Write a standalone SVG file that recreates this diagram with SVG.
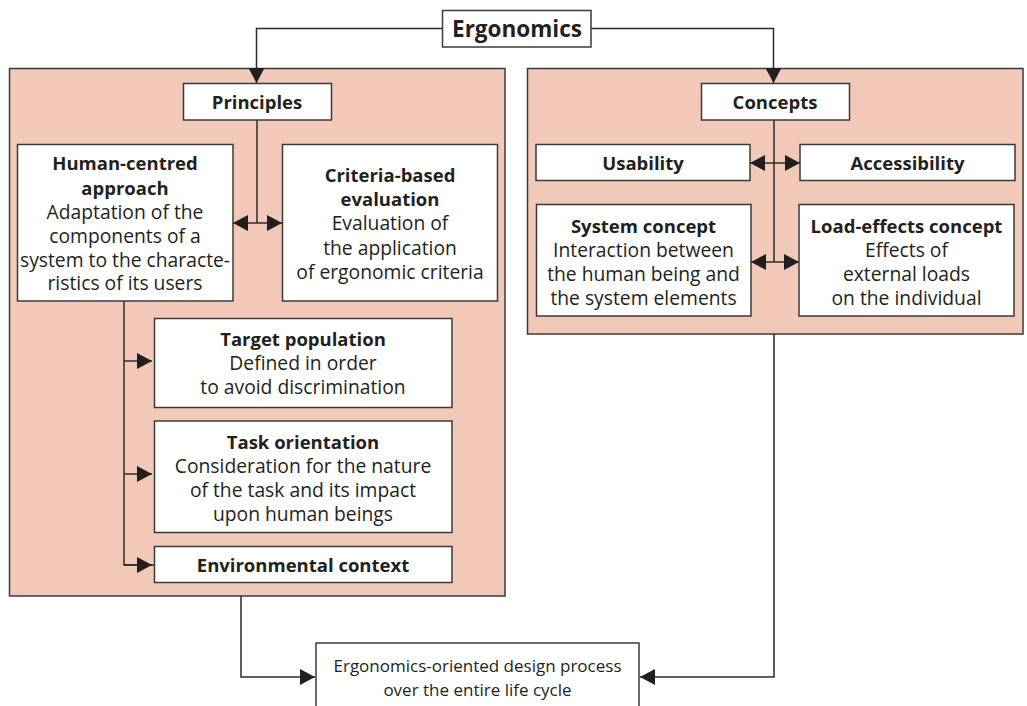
<svg xmlns="http://www.w3.org/2000/svg" width="1027" height="706" viewBox="0 0 1027 706">
  <style>
    .panel { fill: #f2c9b9; stroke: #3a3a3a; stroke-width: 1.5; }
    .box { fill: #ffffff; stroke: #3a3a3a; stroke-width: 1.5; }
    .line { fill: none; stroke: #2b2b2b; stroke-width: 1.5; }
    text { font-family: "Open Sans", "Noto Sans", "DejaVu Sans", sans-serif; font-size: 19.3px; fill: #231f20; text-anchor: middle; }
    .b { font-weight: bold; font-size: 18.5px; }
    .title { font-size: 22.5px; font-weight: bold; }
    .small { font-size: 17px; }
  </style>
  <defs>
    <marker id="arrow" viewBox="0 0 15 16" refX="15" refY="8" markerWidth="15" markerHeight="16" markerUnits="userSpaceOnUse" orient="auto-start-reverse">
      <path d="M0,0 L15,8 L0,16 Z" fill="#231f20"/>
    </marker>
  </defs>

  <!-- container panels -->
  <rect id="panel-principles" class="panel" x="9.5" y="68.5" width="495.5" height="527.5"/>
  <rect id="panel-concepts" class="panel" x="527.5" y="68.5" width="495.5" height="265.5"/>

  <!-- connectors -->
  <g id="connectors">
    <path class="line" d="M442,28.5 H256.5 V83" marker-end="url(#arrow)"/>
    <path class="line" d="M591,28.5 H773.5 V83" marker-end="url(#arrow)"/>
    <path class="line" d="M257,120 V223"/>
    <path class="line" d="M233,223 H282" marker-start="url(#arrow)" marker-end="url(#arrow)"/>
    <path class="line" d="M124,301 V565 H154"/>
    <path class="line" d="M124,361 H152" marker-end="url(#arrow)"/>
    <path class="line" d="M124,474 H152" marker-end="url(#arrow)"/>
    <path class="line" d="M124,565 H152" marker-end="url(#arrow)"/>
    <path class="line" d="M774,120 V262"/>
    <path class="line" d="M750,163 H800" marker-start="url(#arrow)" marker-end="url(#arrow)"/>
    <path class="line" d="M751,262 H799" marker-start="url(#arrow)" marker-end="url(#arrow)"/>
    <path class="line" d="M241,596 V677 H315" marker-end="url(#arrow)"/>
    <path class="line" d="M774,334 V677 H640" marker-end="url(#arrow)"/>
  </g>

  <g id="ergonomics">
    <rect class="box" x="442.5" y="10.5" width="148.5" height="36.5"/>
    <text class="title" x="517" y="36.5">Ergonomics</text>
  </g>

  <g id="principles">
    <rect class="box" x="183.5" y="83.5" width="148" height="36.5"/>
    <text class="b" x="257" y="108.5">Principles</text>
  </g>

  <g id="human-centred">
    <rect class="box" x="17.5" y="144.5" width="215.5" height="156.5"/>
    <text x="125" y="170" class="b">Human-centred</text>
    <text x="125" y="194.5" class="b">approach</text>
    <text x="125" y="218.5">Adaptation of the</text>
    <text x="125" y="242.5">components of a</text>
    <text x="125" y="266.5">system to the characte-</text>
    <text x="125" y="290">ristics of its users</text>
  </g>

  <g id="criteria-based">
    <rect class="box" x="282.5" y="144.5" width="215" height="156.5"/>
    <text x="390" y="182" class="b">Criteria-based</text>
    <text x="390" y="206" class="b">evaluation</text>
    <text x="390" y="230">Evaluation of</text>
    <text x="390" y="255">the application</text>
    <text x="390" y="279">of ergonomic criteria</text>
  </g>

  <g id="target-population">
    <rect class="box" x="154.5" y="318.5" width="297.5" height="89"/>
    <text x="303" y="346" class="b">Target population</text>
    <text x="303" y="370">Defined in order</text>
    <text x="303" y="394">to avoid discrimination</text>
  </g>

  <g id="task-orientation">
    <rect class="box" x="154.5" y="421" width="297.5" height="111.5"/>
    <text x="303" y="449" class="b">Task orientation</text>
    <text x="303" y="472.5">Consideration for the nature</text>
    <text x="303" y="496.5">of the task and its impact</text>
    <text x="303" y="520.5">upon human beings</text>
  </g>

  <g id="environmental-context">
    <rect class="box" x="154.5" y="546.5" width="297.5" height="36"/>
    <text x="303" y="572" class="b">Environmental context</text>
  </g>

  <g id="concepts">
    <rect class="box" x="701.5" y="83.5" width="148" height="36.5"/>
    <text class="b" x="775" y="108.5">Concepts</text>
  </g>

  <g id="usability">
    <rect class="box" x="536" y="144.5" width="214" height="36"/>
    <text class="b" x="643" y="170">Usability</text>
  </g>

  <g id="accessibility">
    <rect class="box" x="800" y="144.5" width="215" height="36"/>
    <text class="b" x="907.5" y="170">Accessibility</text>
  </g>

  <g id="system-concept">
    <rect class="box" x="536.5" y="204.5" width="214.5" height="111.5"/>
    <text x="643.5" y="233" class="b">System concept</text>
    <text x="643.5" y="256.5">Interaction between</text>
    <text x="643.5" y="280.5">the human being and</text>
    <text x="643.5" y="304.5">the system elements</text>
  </g>

  <g id="load-effects-concept">
    <rect class="box" x="799" y="204.5" width="215" height="111.5"/>
    <text x="906.5" y="233" class="b">Load-effects concept</text>
    <text x="906.5" y="256.5">Effects of</text>
    <text x="906.5" y="280.5">external loads</text>
    <text x="906.5" y="304.5">on the individual</text>
  </g>

  <g id="design-process">
    <rect class="box" x="316" y="643" width="323" height="80"/>
    <text class="small" x="477.5" y="672">Ergonomics-oriented design process</text>
    <text class="small" x="477.5" y="696">over the entire life cycle</text>
  </g>
</svg>
